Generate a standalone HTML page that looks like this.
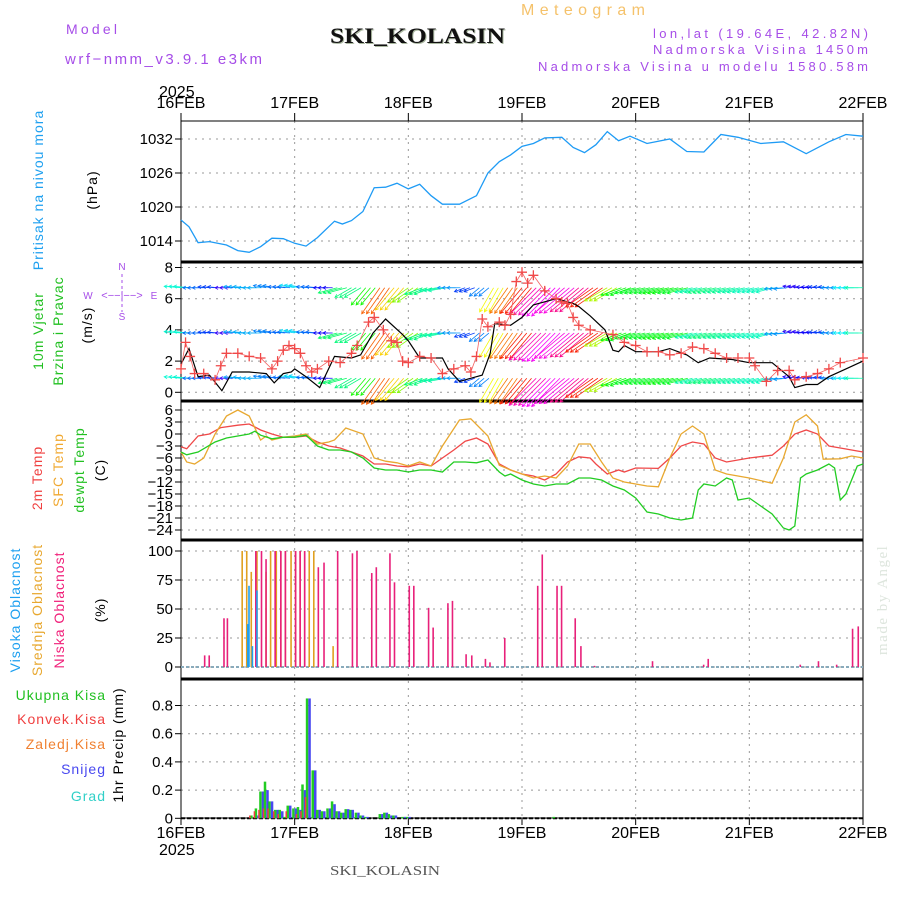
<!DOCTYPE html>
<html><head><meta charset="utf-8"><style>
body{margin:0;background:#fff;}
svg{display:block;font-family:"Liberation Sans",sans-serif;}
</style></head><body>
<svg id="chart" width="900" height="900" viewBox="0 0 900 900" xmlns="http://www.w3.org/2000/svg">
<text x="521" y="15" font-size="16" fill="#f5c26b" textLength="124" lengthAdjust="spacing">Meteogram</text>
<text x="331" y="44" font-size="22" font-weight="bold" font-family="Liberation Serif,serif" fill="#aab8a0" textLength="175" lengthAdjust="spacingAndGlyphs">SKI_KOLASIN</text>
<text x="330" y="43" font-size="22" font-weight="bold" font-family="Liberation Serif,serif" fill="#111" textLength="175" lengthAdjust="spacingAndGlyphs">SKI_KOLASIN</text>
<text x="66" y="34" font-size="14" fill="#a64de8" textLength="51" lengthAdjust="spacing">Model</text>
<text x="65" y="64" font-size="15" fill="#a64de8" textLength="197" lengthAdjust="spacing">wrf−nmm_v3.9.1  e3km</text>
<text x="653" y="38" font-size="13" fill="#a64de8" textLength="215" lengthAdjust="spacing">lon,lat (19.64E, 42.82N)</text>
<text x="653" y="54" font-size="13" fill="#a64de8" textLength="215" lengthAdjust="spacing">Nadmorska Visina 1450m</text>
<text x="538" y="71" font-size="13" fill="#a64de8" textLength="330" lengthAdjust="spacing">Nadmorska Visina u modelu 1580.58m</text>
<text x="159" y="97" font-size="16">2025</text>
<text x="159" y="855" font-size="16">2025</text>
<text x="330" y="875" font-size="14" font-family="Liberation Serif,serif" fill="#555" textLength="110" lengthAdjust="spacingAndGlyphs">SKI_KOLASIN</text>
<text transform="translate(887,655) rotate(-90)" font-size="15" font-family="Liberation Serif,serif" fill="#dde5dd" letter-spacing="1.5">made by Angel</text>

<g font-size="14" letter-spacing="1">
<text transform="translate(43,190) rotate(-90)" fill="#1ea0f0" text-anchor="middle">Pritisak na nivou mora</text>
<text transform="translate(97,190) rotate(-90)" text-anchor="middle">(hPa)</text>
<text transform="translate(43,331) rotate(-90)" fill="#22c022" text-anchor="middle">10m Vjetar</text>
<text transform="translate(63,331) rotate(-90)" fill="#22c022" text-anchor="middle">Brzina i Pravac</text>
<text transform="translate(92,325) rotate(-90)" text-anchor="middle">(m/s)</text>
<text transform="translate(42,478) rotate(-90)" fill="#f04040" text-anchor="middle">2m Temp</text>
<text transform="translate(63,470) rotate(-90)" fill="#f0a830" text-anchor="middle">SFC Temp</text>
<text transform="translate(84,470) rotate(-90)" fill="#22c022" text-anchor="middle">dewpt Temp</text>
<text transform="translate(105,470) rotate(-90)" text-anchor="middle">(C)</text>
<text transform="translate(20,610) rotate(-90)" fill="#1ea0f0" text-anchor="middle">Visoka Oblacnost</text>
<text transform="translate(42,610) rotate(-90)" fill="#e8a830" text-anchor="middle">Srednja Oblacnost</text>
<text transform="translate(64,610) rotate(-90)" fill="#f0207a" text-anchor="middle">Niska Oblacnost</text>
<text transform="translate(105,610) rotate(-90)" text-anchor="middle">(%)</text>
<text transform="translate(123,745) rotate(-90)" text-anchor="middle">1hr Precip (mm)</text>
<text x="106" y="700" fill="#22c022" text-anchor="end">Ukupna Kisa</text>
<text x="106" y="724" fill="#f04040" text-anchor="end">Konvek.Kisa</text>
<text x="106" y="749" fill="#f08030" text-anchor="end">Zaledj.Kisa</text>
<text x="106" y="774" fill="#4848f0" text-anchor="end">Snijeg</text>
<text x="106" y="801" fill="#30d0c8" text-anchor="end">Grad</text>
</g>
<g fill="#a64de8" stroke="none" font-size="10">
<text x="122" y="270" text-anchor="middle">N</text>
<text x="122" y="320" text-anchor="middle">S</text>
<text x="88" y="299" text-anchor="middle">W</text>
<text x="154" y="299" text-anchor="middle">E</text>
<text x="122" y="299" text-anchor="middle" font-size="11">&lt;−−|−−&gt;</text>
<line x1="122" y1="274" x2="122" y2="312" stroke="#a64de8" stroke-dasharray="3,3"/>
</g>
<g id="plot"></g>
</svg>
<script>
// ---------- data ----------
const dayLabels=["16FEB","17FEB","18FEB","19FEB","20FEB","21FEB","22FEB"];
const presTicks=[1014,1020,1026,1032];
const presT=[0,0.07,0.15,0.25,0.4,0.5,0.6,0.7,0.8,0.9,1.0,1.1,1.2,1.35,1.42,1.5,1.6,1.7,1.8,1.9,2.0,2.1,2.2,2.3,2.45,2.6,2.7,2.8,2.9,3.0,3.1,3.2,3.35,3.45,3.55,3.65,3.75,3.85,3.95,4.1,4.3,4.45,4.6,4.75,4.9,5.1,5.3,5.5,5.7,5.85,6.0];
const presV=[1017.7,1016.5,1013.7,1013.9,1013.3,1012.3,1012.0,1013,1014.5,1014.4,1013.6,1013.1,1014.6,1017.5,1017.0,1017.6,1019.2,1023.4,1023.5,1024.2,1023.2,1024.0,1022,1020.5,1020.5,1022,1026,1028,1029.2,1030.7,1031.2,1032.2,1032.3,1030.5,1029.6,1031,1033.3,1031.7,1032.5,1031.2,1032,1029.8,1029.7,1032.8,1032.3,1031.2,1031.5,1029.4,1031.5,1032.8,1032.5];
const windTicks=[0,2,4,6,8];
const spdT=[0,0.07,0.15,0.25,0.36,0.45,0.6,0.75,0.82,0.9,0.97,1.0,1.1,1.22,1.35,1.5,1.58,1.69,1.8,1.95,2.0,2.1,2.3,2.35,2.45,2.6,2.65,2.72,2.76,2.9,3.0,3.1,3.3,3.45,3.5,3.6,3.73,3.8,3.85,3.9,4.0,4.2,4.3,4.45,4.55,4.65,4.85,5.0,5.2,5.35,5.4,5.5,5.6,5.7,5.85,6.0];
const spdV=[1.8,2.8,1.0,1.1,0.1,1.3,1.3,1.2,0.6,1.2,1.3,1.5,1.0,0.3,2.3,2.2,2.4,3.8,4.7,3.7,3.3,2.2,2.2,1.5,0.7,1.0,1.1,2.5,4.4,4.3,4.8,5.6,6.0,5.7,5.5,4.9,4.0,2.7,2.6,3.0,2.6,2.6,2.8,2.4,1.9,2.2,2.1,1.9,1.9,1.0,0.3,0.5,0.5,1.0,1.5,2.0];
const gustT=[0,0.04,0.08,0.12,0.2,0.3,0.35,0.4,0.5,0.6,0.7,0.8,0.85,0.9,0.95,1.0,1.05,1.1,1.15,1.2,1.3,1.4,1.5,1.55,1.65,1.7,1.78,1.85,1.9,1.95,2.0,2.1,2.2,2.3,2.4,2.5,2.55,2.6,2.65,2.7,2.8,2.85,2.9,2.95,3.0,3.05,3.1,3.2,3.3,3.35,3.4,3.45,3.5,3.6,3.8,3.9,4.0,4.1,4.2,4.3,4.4,4.5,4.6,4.7,4.8,4.9,5.0,5.05,5.15,5.25,5.35,5.4,5.5,5.6,5.7,5.8,6.0];
const gustV=[1.5,3.2,2.3,1.2,1.2,0.8,1.7,2.5,2.5,2.3,2.2,1.5,2.0,2.7,3.0,2.8,2.5,1.7,1.3,1.5,2.0,1.9,2.5,3.0,4.5,4.8,4.0,3.3,3.2,2.0,1.9,2.3,2.2,1.2,1.5,1.7,1.3,2.3,4.7,4.2,4.5,4.3,5.0,7.1,7.7,7.0,7.5,6.5,6.0,5.8,5.7,4.8,4.3,4.0,3.7,3.2,3.0,2.6,2.6,2.4,2.5,2.9,2.8,2.5,2.2,2.2,2.2,1.7,0.7,1.4,1.4,0.8,1.0,1.2,1.5,1.9,2.2];
// 3-hourly wind for arrows
const arrowSpd=[1.8,1.0,0.8,0.3,1.3,1.3,1.1,1.0,1.5,1.0,0.5,2.3,2.2,2.8,4.5,4.0,3.3,2.2,2.0,1.2,0.8,1.1,3.8,4.4,4.8,5.7,6.0,5.9,5.5,4.8,3.5,2.7,2.6,2.6,2.7,2.6,2.0,2.2,2.1,2.0,1.9,1.9,1.2,0.4,0.5,0.8,1.2,1.6,2.0];
const arrowDir=[95,90,95,90,95,90,100,95,100,95,90,75,60,40,35,40,55,70,80,90,70,50,30,35,40,45,45,50,50,55,60,70,75,75,75,75,75,75,75,75,75,75,85,100,95,95,90,90,90];
const arrowRows=[6.7,3.8,0.9];
const tempTicks=[6,3,0,-3,-6,-9,-12,-15,-18,-21,-24];
const t2T=[0,0.05,0.15,0.25,0.35,0.5,0.6,0.7,0.8,0.9,1.0,1.1,1.2,1.3,1.4,1.5,1.6,1.7,1.8,1.9,2.0,2.1,2.2,2.3,2.4,2.5,2.6,2.7,2.8,2.9,3.0,3.1,3.2,3.3,3.4,3.5,3.6,3.65,3.75,3.85,3.9,4.0,4.2,4.3,4.4,4.5,4.6,4.7,4.8,5.0,5.2,5.3,5.4,5.5,5.6,5.7,5.8,5.9,6.0];
const t2V=[-3.2,-3.7,-0.5,0,1.6,2.2,2.5,1.0,0,-0.8,-0.8,-0.5,-2,-3,-3.5,-4.5,-5.5,-7.5,-7.5,-8,-8.2,-7.5,-8,-6,-4,-1.8,-1,-2.5,-7.5,-9,-10,-10.5,-11.5,-10,-7,-5.7,-6,-7.5,-10,-9,-9.5,-8.5,-8.6,-6,-3,-2,-2.5,-6,-7,-6,-5.3,-3,0,1,0,-3,-3.5,-4,-4.5];
const sfcT=[0,0.05,0.12,0.2,0.3,0.4,0.5,0.6,0.7,0.75,0.8,0.9,1.0,1.1,1.2,1.3,1.35,1.45,1.6,1.7,1.8,1.9,2.0,2.1,2.2,2.3,2.45,2.55,2.7,2.8,2.9,3.0,3.1,3.2,3.3,3.4,3.5,3.6,3.7,3.8,3.9,4.0,4.1,4.2,4.3,4.4,4.5,4.6,4.7,4.8,5.0,5.2,5.3,5.4,5.5,5.6,5.65,5.8,5.9,6.0];
const sfcV=[-4.5,-7,-7.5,-6,0,4.5,6,4.5,-1.5,-0.5,-1.5,-0.8,-0.5,0,-2.5,-2,-1.5,1.5,0,-6,-6.8,-7.2,-8,-7,-8,-3,3.5,3.8,-0.5,-7.8,-9,-10,-11,-10.5,-11,-8,-2.5,-2.5,-7,-11,-12,-12.5,-13,-13.2,-6,0,2,0,-9,-10,-11,-12.3,-6,3,4.8,2,-6.3,-6.2,-5.5,-6];
const dewT=[0,0.05,0.15,0.3,0.4,0.5,0.6,0.65,0.7,0.8,0.9,1.0,1.1,1.2,1.3,1.4,1.5,1.6,1.7,1.8,1.9,2.0,2.1,2.2,2.3,2.4,2.5,2.6,2.7,2.8,2.85,2.9,3.0,3.1,3.2,3.3,3.4,3.5,3.6,3.7,3.8,3.9,4.0,4.1,4.2,4.3,4.4,4.5,4.55,4.6,4.7,4.8,4.85,4.9,5.0,5.1,5.2,5.3,5.35,5.4,5.45,5.5,5.6,5.7,5.75,5.8,5.85,5.95,6.0];
const dewV=[-4.5,-5.2,-4.5,-2,-1,-0.5,0,0.7,-0.3,-1.2,-0.8,-0.8,-0.3,-3,-4,-4,-4.5,-6,-8.5,-9,-9,-9.5,-9,-9,-9.5,-7,-7,-7.2,-6.5,-9.5,-10.5,-10,-11.5,-12.5,-13,-12.5,-12.5,-11,-11,-11.5,-13,-14,-16,-19.5,-20,-21,-21.5,-21,-14,-12.5,-13,-11,-11.5,-16.5,-16,-18,-20,-23.5,-24,-23,-11,-10,-9,-7.5,-8.5,-16.5,-15,-8,-7.5];
const cloudTicks=[0,25,50,75,100];
const lowT=[0.21,0.25,0.38,0.41,0.66,0.71,0.75,0.83,0.88,0.92,1.01,1.05,1.09,1.21,1.26,1.38,1.51,1.55,1.68,1.72,1.84,1.88,2.01,2.05,2.18,2.22,2.35,2.39,2.51,2.56,2.68,2.72,2.85,3.14,3.18,3.31,3.35,3.47,3.52,3.64,4.15,4.6,4.64,5.45,5.61,5.77,5.91,5.96];
const lowV=[10,10,42,42,100,100,93,100,100,100,100,100,100,86,90,100,98,100,81,86,98,73,70,70,51,34,55,57,11,10,7,4,25,70,97,70,70,42,18,1,5,2,7,2,5,2,33,35];
const midT=[0.54,0.58,0.62,0.67,0.75,0.79,0.84,0.88,0.92,0.97,1.01,1.05,1.09,1.13,1.17,1.34];
const midV=[100,100,82,100,82,100,100,100,100,100,100,100,100,100,100,18];
const highT=[0.59,0.60,0.63,0.67];
const highV=[37,70,18,66];
const precTicks=[0,0.2,0.4,0.6,0.8];
const precT=[0.63,0.67,0.71,0.75,0.79,0.84,0.88,0.92,0.95,1.0,1.04,1.08,1.12,1.17,1.21,1.25,1.3,1.34,1.38,1.42,1.46,1.5,1.55,1.59,1.63,1.76,1.8,1.84,1.88,1.96,2.0,3.29];
const precTot=[0.02,0.07,0.19,0.26,0.12,0.06,0.06,0.01,0.09,0.07,0.08,0.24,0.85,0.34,0.06,0.05,0.07,0.12,0.05,0.04,0.065,0.06,0.04,0.02,0.01,0.03,0.04,0.03,0.02,0.01,0.01,0.01];
const precSnow=[0,0.02,0.19,0.2,0.12,0.06,0.05,0.01,0.09,0.07,0.06,0.2,0.85,0.34,0.06,0.05,0.07,0.1,0.05,0.04,0.065,0.06,0.04,0.02,0.01,0.03,0.04,0.02,0.02,0.01,0.01,0];
const precConv=[0.02,0.05,0.06,0.07,0.07,0.05,0.03,0,0.05,0,0.03,0.05,0.15,0,0,0,0,0,0,0,0,0,0,0,0,0,0,0,0,0,0,0];

// ---------- layout ----------
const X0=181,X1=863,DW=(X1-X0)/6;
const xs=d=>X0+d*DW;
const yP=v=>139+(1032-v)*34/6;
const yW=v=>392.3-v*15.6;
const yT=v=>410+(6-v)*4;
const yC=v=>667-v*1.16;
const yR=v=>818.3-v*141;
const panels=[[121,262],[262,401],[401,540],[540,679],[679,818]];
const NS="http://www.w3.org/2000/svg";
const plot=document.getElementById('plot');
function mk(tag,attrs,parent){const e=document.createElementNS(NS,tag);for(const k in attrs)e.setAttribute(k,attrs[k]);(parent||plot).appendChild(e);return e;}
function linePath(T,V,fy){return T.map((t,i)=>(i?'L':'M')+xs(t).toFixed(1)+','+fy(V[i]).toFixed(1)).join('');}

// grid
const grid=mk('g',{stroke:'#999','stroke-dasharray':'2,5','stroke-width':1});


for(let d=1;d<6;d++){const l=mk('line',{x1:xs(d),x2:xs(d),y1:121,y2:818},grid);

}
function hgrid(ticks,fy,name,fmt){ticks.forEach(v=>{const y=fy(v);
const l=mk('line',{x1:X0,x2:X1,y1:y,y2:y},grid);


const tk=mk('line',{x1:X0-6,x2:X0,y1:y,y2:y,stroke:'#000'});


const t=mk('text',{x:X0-8,y:y+5,'font-size':15,'text-anchor':'end'});


t.textContent=fmt?fmt(v):v;});}
hgrid(presTicks,yP,'pressure-y');
hgrid(windTicks,yW,'wind-y');
hgrid(tempTicks,yT,'temp-y',v=>v<0?'−'+(-v):v);
hgrid(cloudTicks,yC,'cloud-y');
hgrid(precTicks,yR,'precip-y',v=>v===0?'0':String(v));

// panels frames
panels.forEach((p,i)=>{const r=mk('rect',{x:X0,y:p[0],width:X1-X0,height:p[1]-p[0],fill:'none',stroke:'#000','stroke-width':1});


if(i>0){const l=mk('line',{x1:X0,x2:X1,y1:p[0],y2:p[0],stroke:'#000','stroke-width':3});

}});

// day labels
dayLabels.forEach((s,i)=>{[[108,'top'],[838,'bottom']].forEach(([y,w])=>{
const t=mk('text',{x:xs(i),y:y,'font-size':16,'text-anchor':'middle'});


t.textContent=s;
const tk=mk('line',{x1:xs(i),x2:xs(i),y1:w==='top'?113:818,y2:w==='top'?121:825,stroke:'#000'});

});});

// pressure
const pl=mk('path',{d:linePath(presT,presV,yP),fill:'none',stroke:'#1e9bf5','stroke-width':1.3});



// wind arrows
const wg=mk('g',{'stroke-width':0.8,fill:'none'});


arrowRows.forEach(row=>{arrowSpd.forEach((s,i)=>{
 const hue=((270-s*55)%360+360)%360, col='hsl('+hue+',95%,50%)';
 const L=7+5.5*s, a=arrowDir[i]*Math.PI/180;
 for(let k=0;k<3;k++){const d=i*0.125+k*0.042; if(d>6)break;
  const x=xs(d),y=yW(row),dx=-Math.sin(a)*L,dy=Math.cos(a)*L;
  const ex=x+dx,ey=y+dy,ang=Math.atan2(dy,dx);
  const h1x=ex-3.5*Math.cos(ang-0.5),h1y=ey-3.5*Math.sin(ang-0.5),h2x=ex-3.5*Math.cos(ang+0.5),h2y=ey-3.5*Math.sin(ang+0.5);
  const p=mk('path',{d:`M${x},${y}L${ex},${ey}M${h1x},${h1y}L${ex},${ey}L${h2x},${h2y}`,stroke:col},wg);
  
  }
});});
const sl=mk('path',{d:linePath(spdT,spdV,yW),fill:'none',stroke:'#000','stroke-width':1.2});


const gl=mk('path',{d:linePath(gustT,gustV,yW),fill:'none',stroke:'#f46060','stroke-width':0.8});


gustT.forEach((t,i)=>{const x=xs(t),y=yW(gustV[i]);
 const p=mk('path',{d:`M${x-5},${y}h10M${x},${y-5}v10`,stroke:'#f04848','stroke-width':1.3});
 
 });

// temps
[[t2T,t2V,'#f04848','temp-2m-line'],[sfcT,sfcV,'#e8a830','temp-sfc-line'],[dewT,dewV,'#22cc22','dewpoint-line']].forEach(([T,V,c,n])=>{
 const p=mk('path',{d:linePath(T,V,yT),fill:'none',stroke:c,'stroke-width':1.3});
 
 });

// clouds
const bl=mk('line',{x1:X0,x2:X1,y1:yC(0),y2:yC(0),stroke:'#8ab','stroke-width':2,'stroke-dasharray':'3,2'});


[[midT,midV,'#e0a020','mid-cloud-bar'],[lowT,lowV,'#e8207a','low-cloud-bar'],[highT,highV,'#1ea0f0','high-cloud-bar']].forEach(([T,V,c,n])=>{
 T.forEach((t,i)=>{const r=mk('rect',{x:xs(t)-1,y:yC(V[i]),width:1.6,height:yC(0)-yC(V[i]),fill:c});
 
 });});

// precip
const pb=mk('line',{x1:X0,x2:X1,y1:yR(0),y2:yR(0),stroke:'#000','stroke-width':2,'stroke-dasharray':'4,2'});


precT.forEach((t,i)=>{const x=xs(t);
 const g=mk('rect',{x:x-2.5,y:yR(precTot[i]),width:2.5,height:yR(0)-yR(precTot[i]),fill:'#22cc22'});
 
 
 const b=mk('rect',{x:x,y:yR(precSnow[i]),width:2.5,height:yR(0)-yR(precSnow[i]),fill:'#4848f0'});
 
 
 const r=mk('rect',{x:x-3.5,y:yR(precConv[i]),width:1.5,height:yR(0)-yR(precConv[i]),fill:'#f04040'});
 
 });
</script>
</body></html>
